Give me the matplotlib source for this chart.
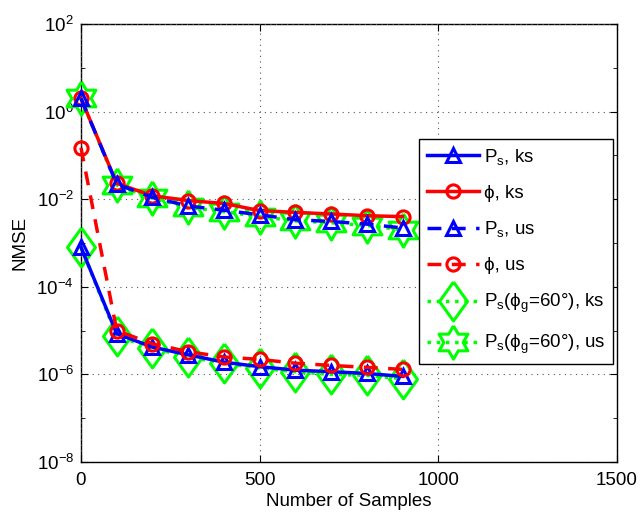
import matplotlib
matplotlib.use("Agg")
import matplotlib.pyplot as plt
from matplotlib.ticker import FixedLocator, NullFormatter
import numpy as np

plt.rcParams['font.family'] = ['Liberation Sans', 'DejaVu Sans']
plt.rcParams['mathtext.fontset'] = 'custom'
plt.rcParams['mathtext.rm'] = 'Liberation Sans'
plt.rcParams['mathtext.it'] = 'Liberation Sans:italic'

samples = [0, 100, 200, 300, 400, 500, 600, 700, 800, 900]
ps_ks = [8e-4, 8.5e-6, 4.2e-6, 2.8e-6, 1.9e-6, 1.5e-6, 1.25e-6, 1.15e-6, 1.05e-6, 9e-7]
phi_ks = [2.0, 0.023, 0.012, 0.0093, 0.0080, 0.0055, 0.0050, 0.0046, 0.0042, 0.0040]
ps_us = [2.0, 0.022, 0.011, 0.0070, 0.0056, 0.0044, 0.0034, 0.0031, 0.0027, 0.0022]
phi_us = [0.15, 1.0e-5, 5.0e-6, 3.3e-6, 2.5e-6, 2.2e-6, 1.8e-6, 1.6e-6, 1.45e-6, 1.3e-6]
ps60_ks = [8e-4, 7.5e-6, 4.0e-6, 2.5e-6, 1.8e-6, 1.4e-6, 1.15e-6, 1.0e-6, 9.5e-7, 8e-7]
ps60_us = [2.0, 0.021, 0.0105, 0.0065, 0.0052, 0.0040, 0.0032, 0.0029, 0.0025, 0.0020]

x_ticks = [0, 500, 1000, 1500]
y_ticks = [1e-8, 1e-6, 1e-4, 1e-2, 1e0, 1e2]
y_minor = [1e-7, 1e-5, 1e-3, 1e-1, 1e1]

labels = ['P$_\\mathrm{s}$, ks', '\u03d5, ks', 'P$_\\mathrm{s}$, us', '\u03d5, us',
          'P$_\\mathrm{s}$(\u03d5$_\\mathrm{g}$=60\u00b0), ks',
          'P$_\\mathrm{s}$(\u03d5$_\\mathrm{g}$=60\u00b0), us']

# marker shapes (MATLAB-like diamond and hexagram)
diamond = [(0, 1), (0.72, 0), (0, -1), (-0.72, 0), (0, 1)]
ang_o = np.deg2rad(90 + 60 * np.arange(6))
ang_i = ang_o + np.deg2rad(30)
hexagram = []
for ao, ai in zip(ang_o, ang_i):
    hexagram.append((np.cos(ao), np.sin(ao)))
    hexagram.append((0.577 * np.cos(ai), 0.577 * np.sin(ai)))
hexagram.append(hexagram[0])

fig = plt.figure(figsize=(6.4, 5.12), dpi=100)
ax = fig.add_axes([81/640, 1-462/512, 536/640, 438/512])

green = '#00ff00'
lw = 2.5
common = dict(mfc='none', mew=2.2, clip_on=False)
h5, = ax.plot(samples, ps60_ks, linestyle=':', color=green, lw=lw, marker=diamond,
              markersize=28, label=labels[4], zorder=2, **common)
h6, = ax.plot(samples, ps60_us, linestyle=':', color=green, lw=lw, marker=hexagram,
              markersize=24, label=labels[5], zorder=2, **common)
h1, = ax.plot(samples, ps_ks, '-', color='blue', lw=lw, marker='^', markersize=9.5,
              label=labels[0], zorder=3, **common)
h2, = ax.plot(samples, phi_ks, '-', color='red', lw=lw, marker='o', markersize=9.5,
              label=labels[1], zorder=3, **common)
h3, = ax.plot(samples, ps_us, '--', color='blue', lw=lw, marker='^', markersize=9.5,
              label=labels[2], zorder=4, dashes=(4, 3), **common)
h4, = ax.plot(samples, phi_us, '--', color='red', lw=lw, marker='o', markersize=9.5,
              label=labels[3], zorder=4, dashes=(4, 3), **common)

ax.set_yscale('log')
ax.set_xlim(0, 1500)
ax.set_ylim(1e-8, 1e2)
ax.set_xticks(x_ticks)
ax.yaxis.set_major_locator(FixedLocator(y_ticks))
ax.yaxis.set_minor_locator(FixedLocator(y_minor))
ax.yaxis.set_minor_formatter(NullFormatter())
ax.tick_params(axis='both', which='both', direction='in', top=True, right=True,
               labelsize=13.5)
ax.tick_params(axis='x', which='major', pad=7)
ax.tick_params(axis='y', which='major', pad=5)
ax.tick_params(which='major', length=5)
ax.tick_params(which='minor', length=3)
ax.grid(True, which='major', linestyle=(0, (1, 4)), color='#555555', linewidth=0.8)
for s in ax.spines.values():
    s.set_linewidth(1.0)
    s.set_zorder(1)

ax.set_xlabel('Number of Samples', fontsize=13.5, labelpad=3)
ax.set_ylabel('NMSE', fontsize=13.5, labelpad=6)

leg = ax.legend(handles=[h1, h2, h3, h4, h5, h6], loc='upper right',
                bbox_to_anchor=(0.9925, 0.737), borderaxespad=0.0,
                fontsize=13.5, handlelength=2.8,
                handletextpad=0.25, labelspacing=0.95, borderpad=0.4,
                fancybox=False, edgecolor='black', framealpha=1)
leg.get_frame().set_linewidth(1.0)
leg.set_zorder(10)

fig.savefig('out.png', dpi=100)
